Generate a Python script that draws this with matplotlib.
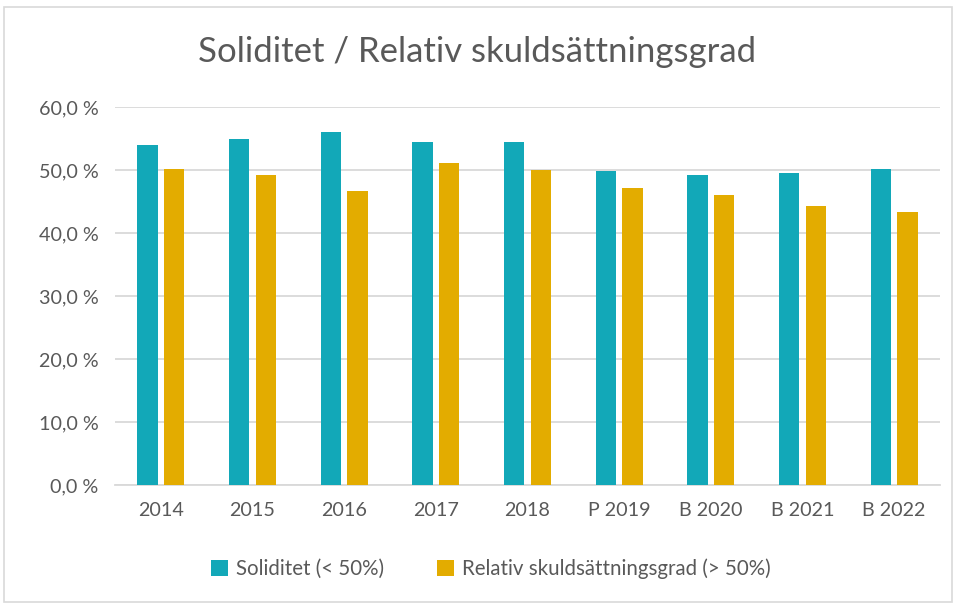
import matplotlib
matplotlib.use("Agg")
import matplotlib.pyplot as plt
import numpy as np
from matplotlib.ticker import FuncFormatter
from matplotlib.patches import Rectangle

categories = ["2014", "2015", "2016", "2017", "2018", "P 2019", "B 2020", "B 2021", "B 2022"]
soliditet = [53.9, 54.9, 56.1, 54.4, 54.5, 49.8, 49.2, 49.6, 50.2]
skuld = [50.1, 49.2, 46.7, 51.1, 50.0, 47.2, 46.0, 44.3, 43.4]
series_names = ["Soliditet (< 50%)", "Relativ skuldsättningsgrad (> 50%)"]
title = "Soliditet / Relativ skuldsättningsgrad"

teal = "#12A8B8"
gold = "#E3AC00"
txt = "#595959"

plt.rcParams['font.family'] = ['Lato', 'DejaVu Sans']

fig = plt.figure(figsize=(9.55, 6.03), dpi=100)
ax = fig.add_axes([115/955, 1 - 485/603, (940-115)/955, (485-107)/603 * 1.0])

x = np.arange(len(categories))
w = 0.22
off = 0.145
ax.bar(x - off, soliditet, width=w, color=teal, label=series_names[0], zorder=3)
ax.bar(x + off, skuld, width=w, color=gold, label=series_names[1], zorder=3)

ax.set_ylim(0, 60)
ax.set_xlim(-0.5, len(categories) - 0.5)
ax.set_yticks(np.arange(0, 61, 10))
ax.yaxis.set_major_formatter(FuncFormatter(lambda v, p: f"{v:.1f} %".replace(".", ",")))
ax.set_xticks(x)
ax.set_xticklabels(categories)
ax.grid(axis='y', color='#D9D9D9', linewidth=1.3, zorder=0)
for s in ax.spines.values():
    s.set_visible(False)
ax.spines['bottom'].set_visible(True)
ax.spines['bottom'].set_color('#D9D9D9')
ax.spines['bottom'].set_linewidth(1.3)
ax.tick_params(axis='both', length=0, labelsize=14.2, colors=txt)
ax.tick_params(axis='x', pad=12)
ax.tick_params(axis='y', pad=12)

fig.text(0.5, 1 - 52/603, title, ha='center', va='center', fontsize=25, color=txt)

leg = fig.legend(loc='center', bbox_to_anchor=(0.514, 1 - 569/603), ncol=2, frameon=False,
                 fontsize=14.8, handlelength=0.8, handleheight=0.8, columnspacing=2.6,
                 handletextpad=0.4)
for t in leg.get_texts():
    t.set_color(txt)

fig.patches.append(Rectangle((4/955, 0.002), 948/955, 1 - 8/603, transform=fig.transFigure,
                             fill=False, edgecolor='#D9D9D9', linewidth=1.2))

fig.savefig("out.png", dpi=100)
